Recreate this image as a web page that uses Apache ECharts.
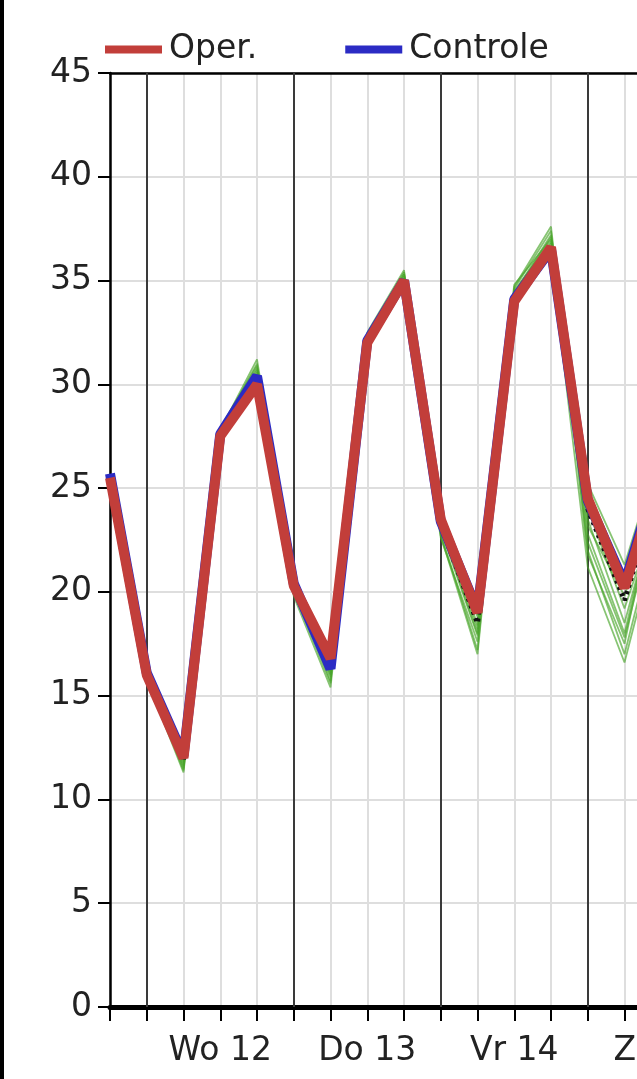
<!DOCTYPE html>
<html>
<head>
<meta charset="utf-8">
<script src="https://cdn.jsdelivr.net/npm/echarts@6/dist/echarts.min.js"></script>
<style>
html,body{margin:0;padding:0;background:#fff;overflow:hidden;}
#c{width:740px;height:1079px;}
</style>
</head>
<body>
<div id="c"></div>
<script>
// time steps (6-hourly), starting Tuesday 18:00
const times = ['Di 18','Wo 00','Wo 06','Wo 12','Wo 18','Do 00','Do 06','Do 12','Do 18','Vr 00','Vr 06','Vr 12','Vr 18','Za 00','Za 06','Za 12','Za 18'];
const dayLabels = ['Wo 12','Do 13','Vr 14','Za 15'];
const dayStarts = ['Wo 00','Do 00','Vr 00','Za 00'];
const yTicks = [0,5,10,15,20,25,30,35,40,45];

const oper     = [25.5,16.0,12.0,27.5,30.0,20.3,16.8,32.0,35.0,23.5,19.0,34.0,36.6,24.5,20.2,26.0,28.0];
const controle = [25.7,16.1,12.1,27.6,30.4,20.4,16.3,32.1,35.0,23.4,19.1,34.1,36.5,24.4,20.4,26.3,28.5];
const ensMean  = [25.5,15.9,11.9,27.6,30.3,20.2,16.5,32.0,35.0,23.2,18.5,34.0,36.4,24.0,19.6,25.5,28.0];

const m1  = [25.5,15.8,11.3,27.8,31.0,20.0,15.6,32.3,35.3,22.8,17.2,34.6,37.4,22.0,17.0,24.0,27.0];
const m2  = [25.5,16.1,11.8,27.5,30.6,20.5,16.0,32.0,35.0,23.3,18.2,34.2,36.8,23.5,18.5,25.0,28.5];
const m3  = [25.5,15.9,12.2,27.9,30.9,20.2,16.6,32.4,35.4,23.8,19.3,34.8,37.0,25.2,21.3,27.0,29.0];
const m4  = [25.5,16.0,11.5,27.3,30.2,19.8,15.4,31.8,34.9,22.6,17.6,33.9,36.2,21.2,16.6,23.5,26.5];
const m5  = [25.5,16.2,12.4,27.7,30.5,20.6,16.9,32.2,35.2,23.9,19.4,34.4,37.2,24.8,20.8,26.5,29.5];
const m6  = [25.5,15.8,11.6,27.6,30.8,20.1,15.9,32.1,35.1,23.0,17.9,34.5,36.9,22.8,18.0,25.5,27.5];
const m7  = [25.5,16.0,12.0,27.4,30.3,20.4,16.3,31.9,35.0,23.5,18.8,34.0,36.5,24.0,19.2,24.5,28.0];
const m8  = [25.5,15.9,11.4,27.8,31.2,20.3,15.7,32.5,35.5,22.7,17.0,34.7,37.6,21.8,17.5,26.0,30.0];
const m9  = [25.5,16.1,12.1,27.5,30.4,20.0,16.2,32.0,34.8,23.6,18.4,34.1,36.6,23.2,19.8,25.2,27.8];
const m10 = [25.5,15.9,11.7,27.6,30.7,20.2,16.1,32.2,35.3,23.1,18.0,34.3,37.1,22.4,17.8,24.8,28.2];
const members = [m1,m2,m3,m4,m5,m6,m7,m8,m9,m10];

const FONT = 'DejaVu Sans';
const chart = echarts.init(document.getElementById('c'));

const series = [];
members.forEach((m,i)=>{
  series.push({
    name:'ens'+i, type:'line', data:m, symbol:'none', silent:true,
    lineStyle:{color:'rgba(70,165,40,0.65)', width:1.8}, z:2
  });
});
series.push({
  name:'mean', type:'line', data:ensMean, symbol:'none', silent:true,
  lineStyle:{color:'#111', width:5, type:[3,4]}, z:3
});
series.push({
  name:'Controle', type:'line', data:controle, symbol:'none',
  lineStyle:{color:'#2b2bc4', width:10}, itemStyle:{color:'#2b2bc4'}, z:4
});
series.push({
  name:'Oper.', type:'line', data:oper, symbol:'none',
  lineStyle:{color:'#c23e3a', width:10}, itemStyle:{color:'#c23e3a'}, z:5,
  markLine:{
    silent:true, symbol:'none', label:{show:false},
    lineStyle:{color:'#3a3a3a', width:2, type:'solid'},
    data: dayStarts.map(d=>({xAxis:d})), z:1
  }
});

chart.setOption({
  animation:false,
  backgroundColor:'#fff',
  legend:{
    data:['Oper.','Controle'], left:100, top:28, icon:'rect',
    itemWidth:57, itemHeight:8, itemGap:88,
    textStyle:{fontFamily:FONT, fontSize:33, color:'#222', padding:[0,0,0,2]}
  },
  grid:{left:110, top:73, width:588, bottom:72, containLabel:false, outerBoundsMode:'none'},
  xAxis:[{
    type:'category', data:times, boundaryGap:false,
    axisLine:{show:true, lineStyle:{color:'#000', width:5}},
    axisTick:{show:true, interval:0, length:14, lineStyle:{color:'#000', width:2}},
    axisLabel:{interval:0, margin:28, fontFamily:FONT, fontSize:33, color:'#222',
      formatter:(v,i)=> (i%4===3 ? dayLabels[(i-3)/4] : '')},
    splitLine:{show:true, interval:0, lineStyle:{color:'#dedede', width:2}}
  },{
    type:'category', data:times, boundaryGap:false, position:'top',
    axisLine:{show:true, lineStyle:{color:'#000', width:2.5}},
    axisTick:{show:false}, axisLabel:{show:false}, splitLine:{show:false}
  }],
  yAxis:{
    type:'value', min:0, max:45, interval:5,
    axisLine:{show:true, lineStyle:{color:'#000', width:2.5}},
    axisTick:{show:true, length:12, lineStyle:{color:'#000', width:2}},
    axisLabel:{margin:18, fontFamily:FONT, fontSize:33, color:'#222',
      formatter:v=> yTicks.indexOf(v)>=0 ? String(v) : ''},
    splitLine:{show:true, lineStyle:{color:'#dedede', width:2}}
  },
  graphic:[{type:'rect', left:0, top:0, shape:{width:4, height:1079}, style:{fill:'#000'}, z:100}],
  series:series
});
</script>
</body>
</html>
